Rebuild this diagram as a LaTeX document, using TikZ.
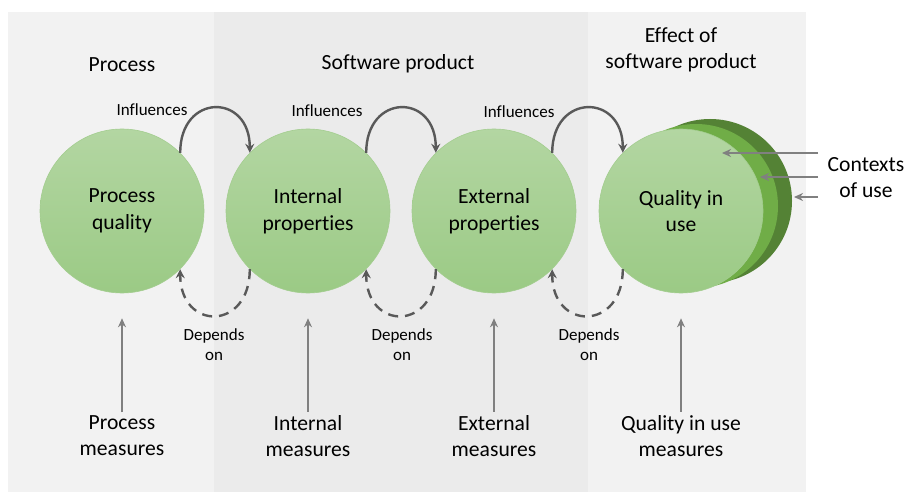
\documentclass[tikz,border=0pt]{standalone}
\usepackage{fontspec}
\setmainfont[RawFeature={-liga,-dlig}]{Carlito}
\usetikzlibrary{arrows.meta}
\definecolor{panelgray}{HTML}{F2F2F2}
\definecolor{midgray}{HTML}{EBEBEB}
\definecolor{lighttop}{HTML}{B3D6A2}
\definecolor{lightbottom}{HTML}{9BCA85}
\definecolor{lightedge}{HTML}{A3CD8F}
\definecolor{midgreen}{HTML}{70AD47}
\definecolor{darkgreen}{HTML}{548235}
\definecolor{arcgray}{HTML}{595959}
\definecolor{arrowgray}{HTML}{808080}
\tikzset{
  quality/.style={circle, minimum size=164pt, inner sep=0pt, align=center,
    top color=lighttop, bottom color=lightbottom, draw=lightedge, line width=0.6pt,
    font=\fontsize{21.6}{26.5}\selectfont},
  backcircle/.style={circle, minimum size=164pt, inner sep=0pt},
  heading/.style={align=center, font=\fontsize{21.6}{26}\selectfont},
  smalllabel/.style={align=center, font=\fontsize{17}{20}\selectfont},
  influence/.style={draw=arcgray, line width=2.4pt, -{Stealth[length=9pt,width=9pt]}},
  depends/.style={draw=arcgray, line width=2.4pt, dash pattern=on 10pt off 7pt,
    -{Stealth[length=9pt,width=9pt]}},
  measure/.style={draw=arrowgray, line width=2.2pt, -{Stealth[length=9pt,width=8pt]}}
}
\begin{document}
\begin{tikzpicture}[x=1pt,y=-1pt]
\useasboundingbox (0,0) rectangle (916,500);
% Draw panels
\fill[panelgray] (8,12) rectangle (806,492);
\fill[midgray] (214,12) rectangle (588,492);
% Headings
\node[heading] (hproc) at (122,65) {Process};
\node[heading] (hsoft) at (398,64) {Software product};
\node[heading] (heff) at (681,50) {Effect of\\software product};
% Contexts of use behind the last circle
\node[backcircle, fill=darkgreen] (ctxdark) at (710,201) {};
\node[backcircle, fill=midgreen] (ctxmid) at (696,206) {};
% Draw circles
\node[quality] (proc) at (122,211) {Process\\quality};
\node[quality] (int) at (308,211) {Internal\\properties};
\node[quality] (ext) at (494,211) {External\\properties};
\node[quality] (use) at (681,211) {Quality in\\use};
% Influences arcs
\draw[influence] (proc.45) .. controls +(0,-60) and +(0,-60) .. (int.135);
\draw[influence] (int.45) .. controls +(0,-60) and +(0,-60) .. (ext.135);
\draw[influence] (ext.45) .. controls +(0,-60) and +(0,-60) .. (use.135);
\node[smalllabel] (inf1) at (152,110) {Influences};
\node[smalllabel] (inf2) at (327,111) {Influences};
\node[smalllabel] (inf3) at (519,112) {Influences};
% Depends on arcs
\draw[depends] (int.225) .. controls +(0,62) and +(0,62) .. (proc.315);
\draw[depends] (ext.225) .. controls +(0,62) and +(0,62) .. (int.315);
\draw[depends] (use.225) .. controls +(0,62) and +(0,62) .. (ext.315);
\node[smalllabel] (dep1) at (214,345) {Depends\\on};
\node[smalllabel] (dep2) at (402,345) {Depends\\on};
\node[smalllabel] (dep3) at (589,345) {Depends\\on};
% Measures
\node[heading] (pm) at (122,436) {Process\\measures};
\node[heading] (im) at (308,436) {Internal\\measures};
\node[heading] (em) at (494,436) {External\\measures};
\node[heading] (um) at (681,436) {Quality in use\\measures};
\foreach \m/\c in {pm/proc, im/int, em/ext, um/use}
  \draw[measure] (\m.north) -- ([yshift=-25pt]\c.south);
% Contexts of use
\node[heading] (ctx) at (866,178) {Contexts\\of use};
\coordinate (c1) at (818,153);
\coordinate (c2) at (818,177);
\coordinate (c3) at (818,197);
\draw[measure] (c1) -- (722,153);
\draw[measure] (c2) -- (760,177);
\draw[measure] (c3) -- (794,197);
\end{tikzpicture}
\end{document}
